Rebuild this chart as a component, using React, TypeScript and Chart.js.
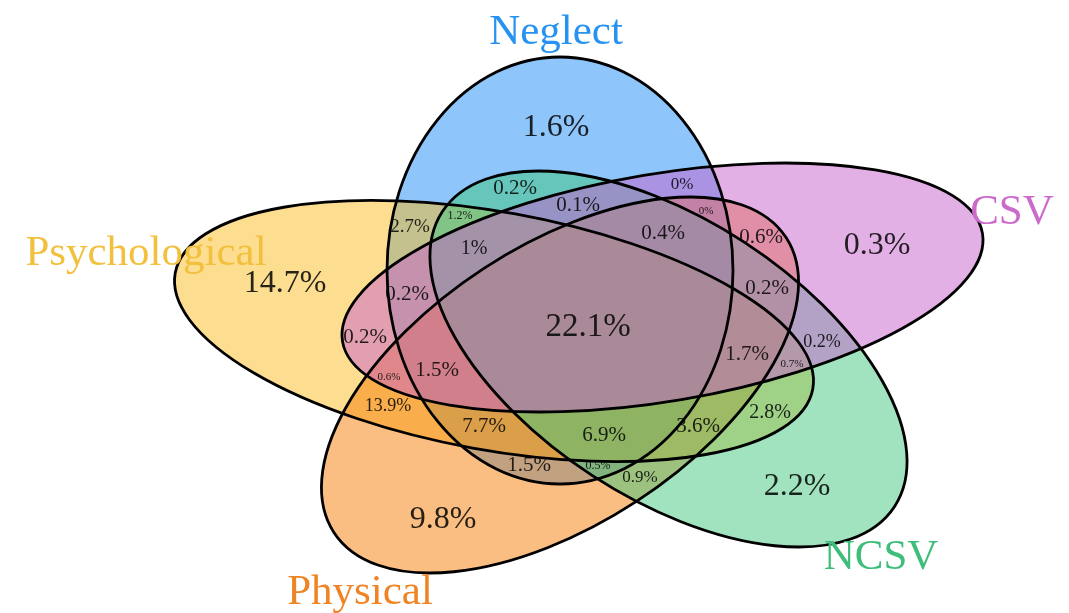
import React, { useEffect, useRef } from 'react';
import { Chart, registerables } from 'chart.js';

Chart.register(...registerables);

// ---- Sets (drawing order) ----
const setNames = ['Neglect', 'Psychological', 'Physical', 'NCSV', 'CSV'];
const setFill = ['rgb(30,140,245)', 'rgb(251,189,35)', 'rgb(245,125,5)', 'rgb(65,200,125)', 'rgb(200,97,205)'];
const setLabelColor = ['rgb(40,146,240)', 'rgb(242,192,60)', 'rgb(238,132,36)', 'rgb(62,190,122)', 'rgb(204,106,204)'];

// ellipse geometry per set (data units): centre, semi-axes, rotation (deg)
const ellipseCX = [560, 494, 560, 668.5, 662.5];
const ellipseCY = [270.5, 331, 385, 359, 287.5];
const ellipseA = [173, 324, 269.9, 269.9, 324.5];
const ellipseB = [213.5, 119, 139.3, 139.3, 113.7];
const ellipseRot = [0, 10.3, -33.1, 33.1, -9.6];

// set-name label anchors (data units)
const setLabelX = [556, 146, 360, 881, 1012];
const setLabelY = [30, 251, 590, 555, 210];

// ---- Region values (percent) ----
const regionValues = [
  1.6, 14.7, 0.3, 9.8, 2.2, 22.1,
  0.2, 0.1, 0, 0, 2.7, 1.2, 1, 0.4, 0.6, 0.2,
  0.2, 0.2, 1.5, 0.6, 13.9, 7.7, 6.9, 3.6, 2.8, 1.7,
  0.7, 0.2, 1.5, 0.5, 0.9,
];
// region label anchors (data units)
const regionX = [
  556, 285, 877, 443, 797, 588,
  515, 578, 682, 706, 410, 460, 474, 663, 761, 767,
  407, 365, 437, 389, 388, 484, 604, 698, 770, 747,
  792, 822, 529, 598, 640,
];
const regionY = [
  125, 281, 243, 517, 484, 325,
  187, 204, 183, 210, 226, 215, 247, 232, 236, 287,
  293, 336, 369, 376, 405, 425, 434, 425, 411, 353,
  363, 341, 464, 465, 476,
];
const regionFontSize = [
  32, 32, 32, 32, 32, 33,
  21, 21, 17, 11, 19, 12, 20, 21, 21, 21,
  21, 21, 21, 11, 18, 21, 21, 21, 20, 21,
  11, 18, 21, 12, 17,
];

const SERIF = '"Liberation Serif", "Times New Roman", Times, serif';

const vennPlugin = {
  id: 'vennShapes',
  beforeDatasetsDraw(chart: any) {
    const { ctx, scales } = chart;
    const xs = scales.x;
    const ys = scales.y;
    const geom = setNames.map((_, i) => {
      const cx = xs.getPixelForValue(ellipseCX[i]);
      const cy = ys.getPixelForValue(ellipseCY[i]);
      const rx = Math.abs(xs.getPixelForValue(ellipseCX[i] + ellipseA[i]) - cx);
      const ry = Math.abs(ys.getPixelForValue(ellipseCY[i] + ellipseB[i]) - cy);
      return { cx, cy, rx, ry, rot: (ellipseRot[i] * Math.PI) / 180 };
    });
    ctx.save();
    geom.forEach((g, i) => {
      ctx.beginPath();
      ctx.ellipse(g.cx, g.cy, g.rx, g.ry, g.rot, 0, Math.PI * 2);
      ctx.globalAlpha = 0.5;
      ctx.fillStyle = setFill[i];
      ctx.fill();
    });
    ctx.globalAlpha = 1;
    ctx.lineWidth = 2.8;
    ctx.strokeStyle = '#000';
    geom.forEach((g) => {
      ctx.beginPath();
      ctx.ellipse(g.cx, g.cy, g.rx, g.ry, g.rot, 0, Math.PI * 2);
      ctx.stroke();
    });
    ctx.restore();
  },
  afterDatasetsDraw(chart: any) {
    const { ctx } = chart;
    ctx.save();
    ctx.textAlign = 'center';
    ctx.textBaseline = 'alphabetic';
    const regionMeta = chart.getDatasetMeta(0);
    regionMeta.data.forEach((pt: any, i: number) => {
      const size = regionFontSize[i];
      ctx.font = `${size}px ${SERIF}`;
      ctx.fillStyle = 'rgba(5,5,5,0.86)';
      ctx.fillText(`${regionValues[i]}%`, pt.x, pt.y + size * 0.34);
    });
    const setMeta = chart.getDatasetMeta(1);
    setMeta.data.forEach((pt: any, i: number) => {
      const size = 43;
      ctx.font = `${size}px ${SERIF}`;
      ctx.fillStyle = setLabelColor[i];
      ctx.fillText(setNames[i], pt.x, pt.y + size * 0.33);
    });
    ctx.restore();
  },
};

export default function App() {
  const canvasRef = useRef<HTMLCanvasElement | null>(null);

  useEffect(() => {
    if (!canvasRef.current) return;
    const chart = new Chart(canvasRef.current, {
      type: 'scatter',
      data: {
        datasets: [
          {
            label: 'regions',
            data: regionX.map((x, i) => ({ x, y: regionY[i] })),
            pointRadius: 0,
            pointHoverRadius: 0,
          },
          {
            label: 'sets',
            data: setLabelX.map((x, i) => ({ x, y: setLabelY[i] })),
            pointRadius: 0,
            pointHoverRadius: 0,
          },
        ],
      },
      options: {
        animation: false,
        responsive: true,
        maintainAspectRatio: false,
        layout: { padding: 0 },
        plugins: {
          legend: { display: false },
          tooltip: { enabled: false },
          title: { display: false },
        },
        events: [],
        scales: {
          x: { type: 'linear', min: 0, max: 1069, display: false },
          y: { type: 'linear', min: 0, max: 613, reverse: true, display: false },
        },
      },
      plugins: [vennPlugin],
    });
    return () => chart.destroy();
  }, []);

  return (
    <div style={{ position: 'fixed', left: 0, top: 0, width: 1069, height: 613, background: '#fff' }}>
      <canvas ref={canvasRef} />
    </div>
  );
}
